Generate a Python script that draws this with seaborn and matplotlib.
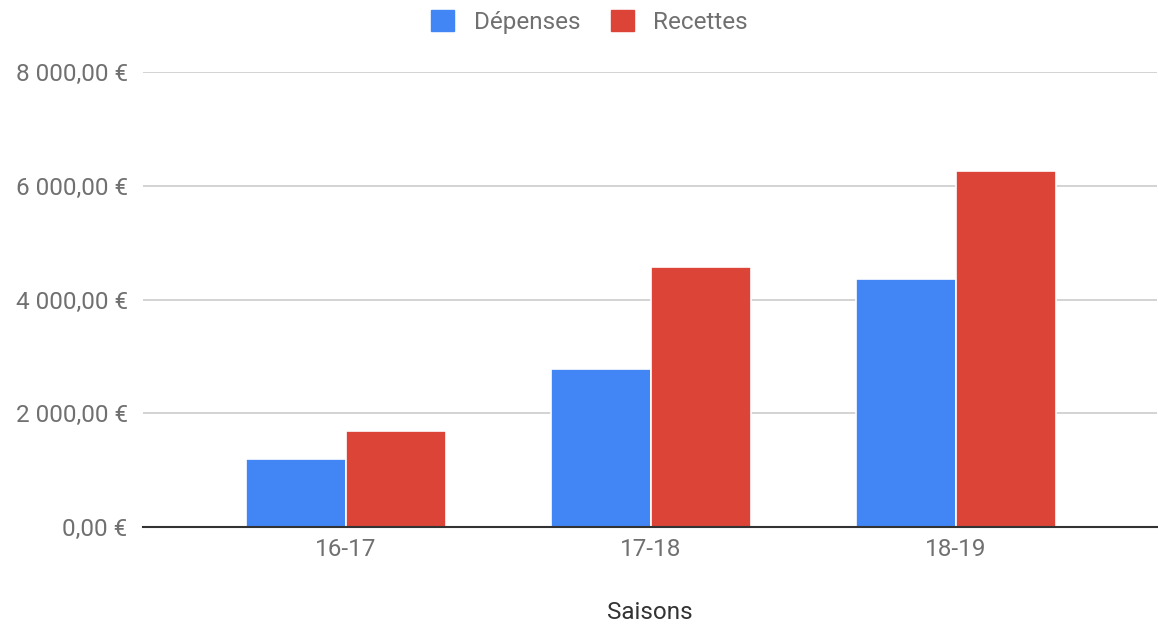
import matplotlib
matplotlib.use("Agg")
import matplotlib.pyplot as plt
import seaborn as sns
import pandas as pd
from matplotlib.ticker import FuncFormatter
from matplotlib.patches import Patch

saisons = ["16-17", "17-18", "18-19"]
depenses = [1190, 2776, 4360]
recettes = [1695, 4570, 6255]
series_names = ["Dépenses", "Recettes"]
colors = ["#4285F4", "#DB4437"]
yticks = [0, 2000, 4000, 6000, 8000]

df = pd.DataFrame({
    "Saisons": saisons * 2,
    "Montant": depenses + recettes,
    "Serie": [series_names[0]] * 3 + [series_names[1]] * 3,
})

sns.set_theme(style="white")
plt.rcParams["font.family"] = ["Roboto", "DejaVu Sans"]

fig = plt.figure(figsize=(11.58, 6.24), dpi=100)
ax = fig.add_axes([143 / 1158, 1 - 527 / 624, (1157 - 143) / 1158, (527 - 72) / 624])

sns.barplot(data=df, x="Saisons", y="Montant", hue="Serie", palette=colors,
            width=0.655, ax=ax, edgecolor="white", linewidth=1.2, saturation=1,
            legend=False)

ax.set_ylim(0, 8000)
ax.set_xlim(-0.666, 2.66)
ax.set_yticks(yticks)


def fmt(v, pos):
    s = f"{int(v):,}".replace(",", " ")
    return f"{s},00 €"


ax.yaxis.set_major_formatter(FuncFormatter(fmt))
ax.grid(axis="y", color="#cccccc", linewidth=1.2)
ax.set_axisbelow(True)
for s in ["top", "right", "left"]:
    ax.spines[s].set_visible(False)
ax.spines["bottom"].set_color("#333333")
ax.spines["bottom"].set_linewidth(1.5)
ax.tick_params(axis="both", length=0, labelsize=17.5, colors="#707070")
ax.tick_params(axis="y", pad=11)
ax.tick_params(axis="x", pad=8)
ax.set_ylabel("")
ax.set_xlabel("Saisons", fontsize=17.5, color="#333333", labelpad=29)

handles = [Patch(facecolor=c, edgecolor=c) for c in colors]
fig.legend(handles, series_names, loc="upper center", bbox_to_anchor=(0.509, 1.019),
           ncol=2, frameon=False, fontsize=17.5, handlelength=0.95, handleheight=0.95,
           columnspacing=1.25, handletextpad=0.8, labelcolor="#707070")

fig.savefig("out.png", dpi=100)
